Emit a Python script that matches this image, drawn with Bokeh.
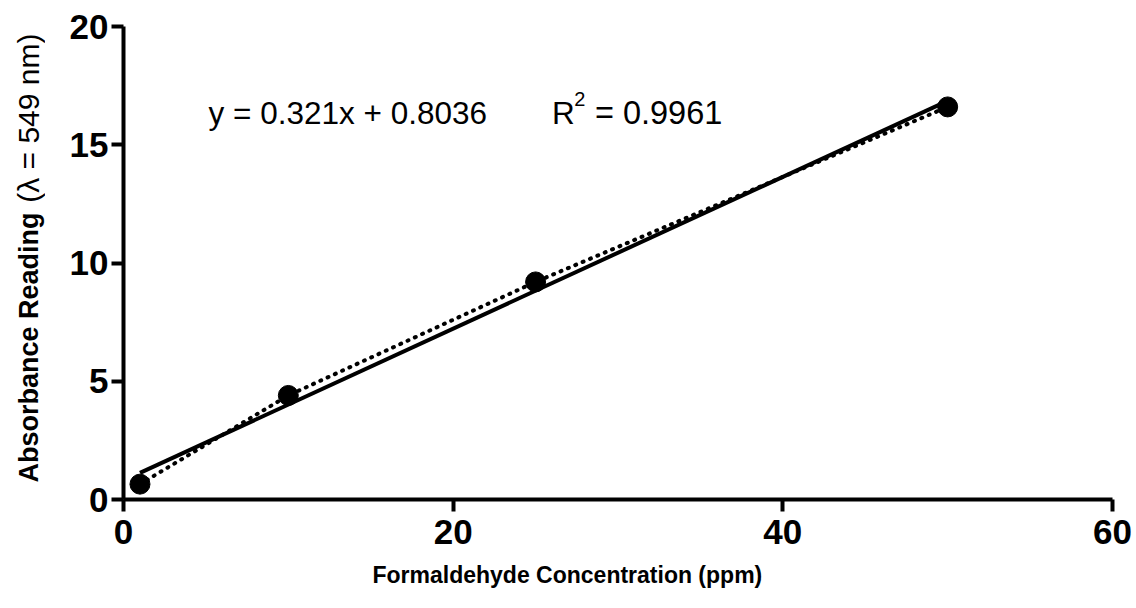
import math
from bokeh.plotting import figure
from bokeh.models import Label, Range1d, FixedTicker, Title
from bokeh.layouts import row
from bokeh.core.properties import value
from bokeh.embed import file_html
from bokeh.resources import INLINE

# Data
conc = [1, 10, 25, 50]
absorb = [0.65, 4.4, 9.2, 16.6]
slope = 0.321
intercept = 0.8036
fit_x = [1, 50]
fit_y = [slope * v + intercept for v in fit_x]
x_ticks = [0, 20, 40, 60]
y_ticks = [0, 5, 10, 15, 20]
eq_text = "y = 0.321x + 0.8036"
r2_text = "= 0.9961"
x_title = "Formaldehyde Concentration (ppm)"
y_title_bold = "Absorbance Reading"
y_title_rest = "(λ = 549 nm)"

FONT = "Liberation Sans"
H = 600
TOP, BOTTOM = 26, 501  # frame edges in page pixels (frames of the row are aligned)

# narrow figure holding the vertical y-axis title; its y range runs in page pixels
lf = figure(width=45, height=H, output_backend="svg", toolbar_location=None,
            x_range=Range1d(0, 45), y_range=Range1d(BOTTOM, TOP), title=None,
            x_axis_location=None, y_axis_location=None,
            min_border=0, min_border_left=0, min_border_right=0,
            min_border_top=TOP, min_border_bottom=H - BOTTOM)
lf.grid.visible = False
lf.outline_line_color = None
lf.text(x=[28], y=[484], text=[y_title_bold], angle=math.pi / 2,
        text_font=value(FONT), text_font_style="bold", text_font_size="27px",
        text_align="left", text_baseline="middle", text_color="black")
lf.text(x=[28], y=[203], text=[y_title_rest], angle=math.pi / 2,
        text_font=value(FONT), text_font_style="normal", text_font_size="30px",
        text_align="left", text_baseline="middle", text_color="black")

p = figure(width=1091, height=H, output_backend="svg", toolbar_location=None,
           x_range=Range1d(0, 60), y_range=Range1d(0, 20),
           min_border_left=78, min_border_right=24, min_border_top=TOP,
           min_border_bottom=H - BOTTOM)
p.outline_line_color = None
p.grid.visible = False

for ax in (p.xaxis[0], p.yaxis[0]):
    ax.axis_line_width = 4
    ax.axis_line_color = "black"
    ax.major_tick_line_width = 4
    ax.major_tick_line_color = "black"
    ax.major_tick_out = 12
    ax.major_tick_in = 0
    ax.minor_tick_line_color = None
    ax.major_label_text_font = FONT
    ax.major_label_text_font_style = "bold"
    ax.major_label_text_font_size = "35px"
    ax.major_label_text_color = "black"

p.xaxis[0].ticker = FixedTicker(ticks=x_ticks)
p.yaxis[0].ticker = FixedTicker(ticks=y_ticks)
p.xaxis[0].major_label_standoff = 8
p.yaxis[0].major_label_standoff = 3

# regression (solid) and dotted connecting line
p.line(fit_x, fit_y, line_color="black", line_width=4)
p.line(conc, absorb, line_color="black", line_width=4, line_dash="1 7", line_cap="round")
p.scatter(conc, absorb, size=20, color="black")

# x axis title below
p.add_layout(Title(text=x_title, align="left", offset=249, standoff=26,
                   text_font=FONT, text_font_style="bold", text_font_size="23px",
                   text_color="black"), "below")

# equation annotation
p.add_layout(Label(x=5.16, y=16.34, text=eq_text, text_font=FONT, text_font_size="31.5px",
                   text_align="left", text_baseline="middle", text_color="black"))
p.add_layout(Label(x=26.0, y=16.34, text="R", text_font=FONT, text_font_size="31.5px",
                   text_align="left", text_baseline="middle", text_color="black"))
p.add_layout(Label(x=27.35, y=16.95, text="2", text_font=FONT, text_font_size="20px",
                   text_align="left", text_baseline="middle", text_color="black"))
p.add_layout(Label(x=28.6, y=16.34, text=r2_text, text_font=FONT, text_font_size="32.5px",
                   text_align="left", text_baseline="middle", text_color="black"))

layout = row(lf, p, spacing=0)
open("out.html", "w").write(file_html(layout, INLINE))
